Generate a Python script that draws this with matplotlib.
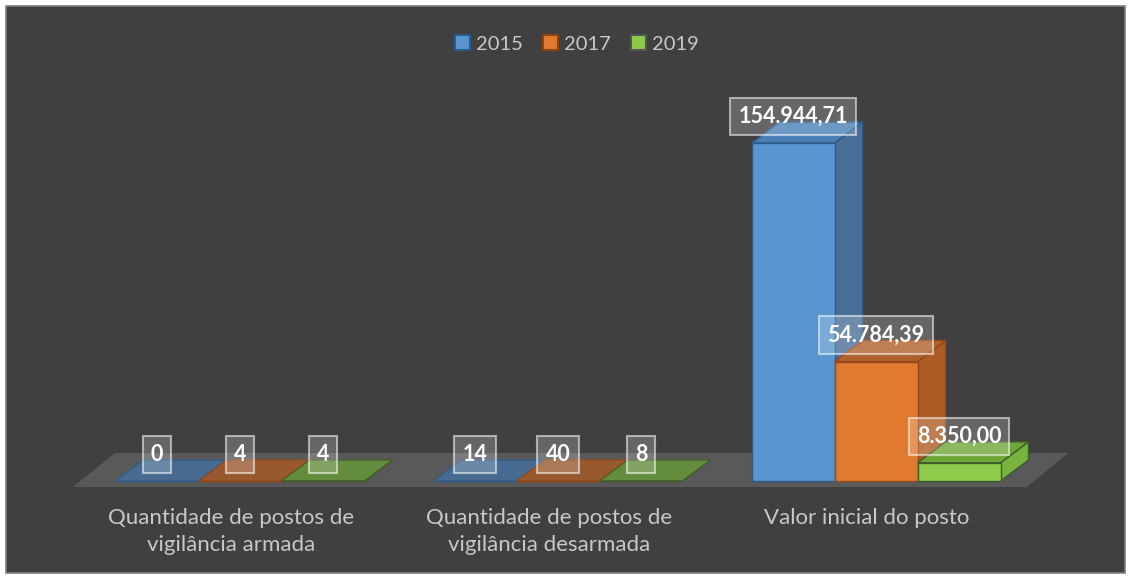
import matplotlib
matplotlib.use('Agg')
import matplotlib.pyplot as plt
from matplotlib.patches import Polygon, Rectangle, Patch

# ---------------- data ----------------
categories = ["Quantidade de postos de\nvigilância armada",
              "Quantidade de postos de\nvigilância desarmada",
              "Valor inicial do posto"]
series_names = ["2015", "2017", "2019"]
values_2015 = [0, 14, 154944.71]
values_2017 = [4, 40, 54784.39]
values_2019 = [4, 8, 8350.00]
label_decimals = [0, 0, 2]

# ---------------- style ----------------
front_colors = ["#5a95cf", "#e07a30", "#8dcb4b"]
top_colors = ["#4a7fb6", "#b0612a", "#6fa638"]
side_colors = ["#4a6f97", "#ad5d24", "#78b33f"]
edge_colors = ["#2c5b8a", "#97471a", "#3f5a2a"]
legend_edges = ["#2e5b8c", "#8d4214", "#555555"]
flat_colors = ["#43709f", "#a85a25", "#679a37"]

W, H = 1131, 579
fig = plt.figure(figsize=(W / 100, H / 100), dpi=100)
fig.patch.set_facecolor("white")

ax = fig.add_axes([0, 0, 1, 1])
ax.axis("off")
ax.patch.set_alpha(0)
ax.add_patch(Rectangle((6 / W, 6 / H), 1119 / W, 567 / H,
                       transform=ax.transAxes, facecolor="#404040",
                       edgecolor="#808080", lw=1.2, zorder=0))

# layout: pixel <-> data
PX_PER_CAT = 318.0
CAT0_PX = 240.0
BASE_PX = 481.0          # baseline (from top)
VAL_PER_PX = 458.5       # value units per pixel
ax.set_xlim(-CAT0_PX / PX_PER_CAT, (W - CAT0_PX) / PX_PER_CAT)
ax.set_ylim(-(H - BASE_PX) * VAL_PER_PX, BASE_PX * VAL_PER_PX)


def dxp(px):
    return px / PX_PER_CAT


def dyp(px):
    return px * VAL_PER_PX


def pt(xpx, ypx):
    return ((xpx - CAT0_PX) / PX_PER_CAT, (BASE_PX - ypx) * VAL_PER_PX)


# floor
floor = Polygon([pt(73, 487), pt(1027, 487), pt(1068, 453), pt(115, 453)],
                closed=True, facecolor="#595959", edgecolor="none", zorder=1)
ax.add_patch(floor)

bw = dxp(83)
DX, DY = dxp(28), dyp(21)
series = [values_2015, values_2017, values_2019]


def fmt(v, dec):
    s = f"{v:,.{dec}f}"
    return s.replace(",", "X").replace(".", ",").replace("X", ".")


for j, vals in enumerate(series):
    xs = [i + (j - 1) * bw for i in range(len(categories))]
    for x, v in zip(xs, vals):
        x0, x1 = x - bw / 2, x + bw / 2
        flat = v * 1.0 / VAL_PER_PX < 2
        top_c = flat_colors[j] if flat else top_colors[j]
        # side face
        ax.add_patch(Polygon([(x1, 0), (x1, v), (x1 + DX, v + DY), (x1 + DX, DY)],
                             closed=True, facecolor=side_colors[j],
                             edgecolor=edge_colors[j], lw=1, zorder=2 + 2 * j))
        # top face
        ax.add_patch(Polygon([(x0, v), (x1, v), (x1 + DX, v + DY), (x0 + DX, v + DY)],
                             closed=True, facecolor=top_c,
                             edgecolor=edge_colors[j], lw=1, zorder=2 + 2 * j,
                             alpha=0.8 if flat else 1))
    ax.bar(xs, vals, width=bw, color=front_colors[j], edgecolor=edge_colors[j],
           lw=1, zorder=3 + 2 * j)
    for i, (x, v) in enumerate(zip(xs, vals)):
        ax.text(x, v + dyp(26.5), fmt(v, label_decimals[i]), ha="center", va="center",
                fontsize=15.5, fontweight="bold", color="white", family="Lato",
                zorder=20,
                bbox=dict(boxstyle="square,pad=0.38", facecolor=(1, 1, 1, 0.2),
                          edgecolor=(1, 1, 1, 0.55), lw=1.5))

# category labels
for i, c in enumerate(categories):
    ax.text(i - dxp(9), -dyp(508 - BASE_PX), c, ha="center", va="top",
            fontsize=16, color="#c8c8c8", family="Lato", linespacing=1.45)

# legend
handles = [Patch(facecolor=front_colors[j], edgecolor=legend_edges[j], lw=1.5)
           for j in range(3)]
fig.legend(handles, series_names, loc="center", bbox_to_anchor=(577 / W, 1 - 44 / H),
           ncol=3, frameon=False, handlelength=0.75, handleheight=0.75,
           handletextpad=0.3, columnspacing=1.0,
           prop={"family": "Lato", "size": 14.5}, labelcolor="#c8c8c8")

fig.savefig("out.png", dpi=100, facecolor="white")
